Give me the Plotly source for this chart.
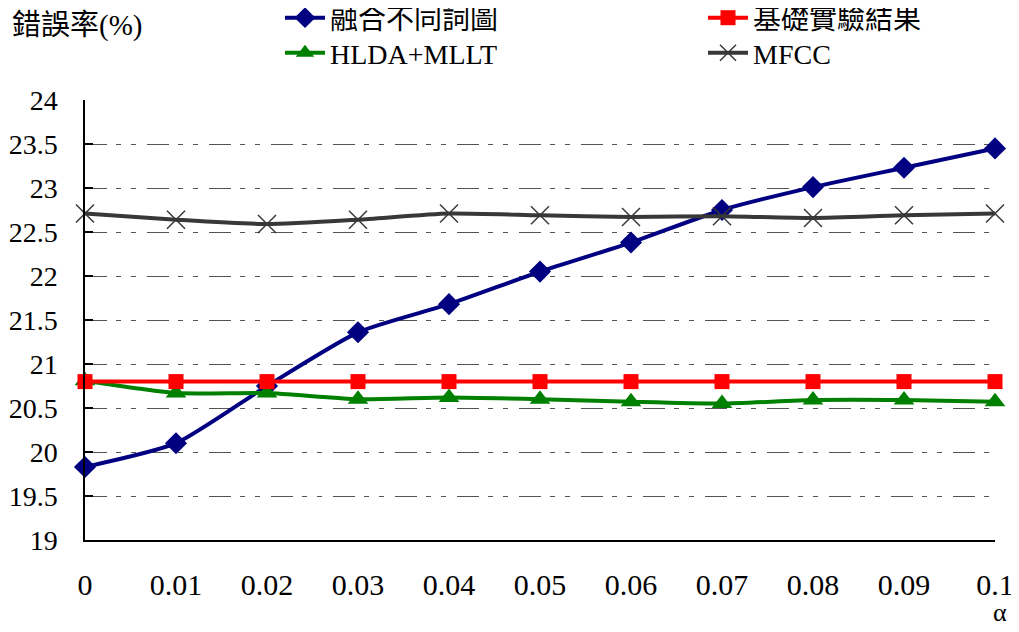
import plotly.graph_objects as go

alpha = [0, 0.01, 0.02, 0.03, 0.04, 0.05, 0.06, 0.07, 0.08, 0.09, 0.1]
tick_labels = ["0", "0.01", "0.02", "0.03", "0.04", "0.05", "0.06", "0.07", "0.08", "0.09", "0.1"]
fused = [19.83, 20.10, 20.75, 21.36, 21.68, 22.05, 22.38, 22.75, 23.01, 23.23, 23.45]
baseline = [20.80, 20.80, 20.80, 20.80, 20.80, 20.80, 20.80, 20.80, 20.80, 20.80, 20.80]
hlda = [20.81, 20.67, 20.67, 20.60, 20.62, 20.60, 20.57, 20.55, 20.59, 20.59, 20.57]
mfcc = [22.71, 22.64, 22.59, 22.64, 22.71, 22.69, 22.67, 22.68, 22.66, 22.69, 22.71]
y_ticks = [19, 19.5, 20, 20.5, 21, 21.5, 22, 22.5, 23, 23.5, 24]

SERIF = "Liberation Serif, Noto Sans CJK TC, serif"

fig = go.Figure()
fig.add_trace(go.Scatter(
    x=alpha, y=fused, name="融合不同詞圖", mode="lines+markers",
    line=dict(color="#000080", width=4, shape="spline", smoothing=0.6),
    marker=dict(symbol="diamond", size=17, color="#000080"),
    cliponaxis=False, legend="legend"))
fig.add_trace(go.Scatter(
    x=alpha, y=hlda, name="HLDA+MLLT", mode="lines+markers",
    line=dict(color="#008000", width=4, shape="spline", smoothing=0.6),
    marker=dict(symbol="triangle-up", size=18, color="#008000"),
    cliponaxis=False, legend="legend3"))
fig.add_trace(go.Scatter(
    x=alpha, y=baseline, name="基礎實驗結果", mode="lines+markers",
    line=dict(color="#FF0000", width=4),
    marker=dict(symbol="square", size=15, color="#FF0000"),
    cliponaxis=False, legend="legend2"))
fig.add_trace(go.Scatter(
    x=alpha, y=mfcc, name="MFCC", mode="lines+markers",
    line=dict(color="#383838", width=4, shape="spline", smoothing=0.6),
    marker=dict(symbol="x-thin", size=18, color="#383838",
                line=dict(color="#383838", width=1.5)),
    cliponaxis=False, legend="legend4"))

grid_dash = "22px,9px,5px,10px,5px,11px"

FIG_W, FIG_H = 1011, 624
PLOT_W, PLOT_H = 910, 440
ROW1_Y = 1 + 107 / PLOT_H
ROW2_Y = 1 + 72 / PLOT_H
COL1_X = 272 / FIG_W
COL2_X = 695 / FIG_W


def leg(x, y):
    return dict(x=x, y=y, xanchor="left", yanchor="top",
                xref="container", yref="paper", orientation="v",
                bgcolor="rgba(0,0,0,0)", font=dict(size=28, family=SERIF),
                tracegroupgap=0, itemwidth=40)


fig.update_layout(
    width=FIG_W, height=FIG_H,
    margin=dict(l=77, r=24, t=92, b=92, autoexpand=False),
    paper_bgcolor="white", plot_bgcolor="white",
    font=dict(family=SERIF, size=28, color="black"),
    showlegend=True,
    legend=leg(COL1_X, ROW1_Y),
    legend2=leg(COL2_X, ROW1_Y),
    legend3=leg(COL1_X, ROW2_Y),
    legend4=leg(COL2_X, ROW2_Y),
    xaxis=dict(range=[0, 0.1], tickvals=alpha, ticktext=tick_labels,
               showgrid=False, zeroline=False, showline=True,
               linecolor="black", linewidth=1.5, ticks="",
               ticklabelstandoff=17,
               tickfont=dict(size=30, family=SERIF)),
    yaxis=dict(range=[19, 24], tickvals=y_ticks,
               showgrid=True, gridcolor="#555555", gridwidth=1.3,
               griddash=grid_dash, zeroline=False, showline=True,
               linecolor="black", linewidth=1.5, ticks="inside",
               ticklen=8, tickcolor="black", tickwidth=1.5,
               ticklabelstandoff=20,
               tickfont=dict(size=28, family=SERIF)),
)

fig.add_annotation(text="錯誤率(%)", xref="paper", yref="paper",
                   x=-75 / PLOT_W, y=1 + 75 / PLOT_H, xanchor="left", yanchor="middle",
                   showarrow=False, font=dict(size=29, family=SERIF))
fig.add_annotation(text="α", xref="paper", yref="paper",
                   x=1 + 5 / PLOT_W, y=-72 / PLOT_H, xanchor="center", yanchor="middle",
                   showarrow=False, font=dict(size=26, family=SERIF))

fig.write_html("out.html")
